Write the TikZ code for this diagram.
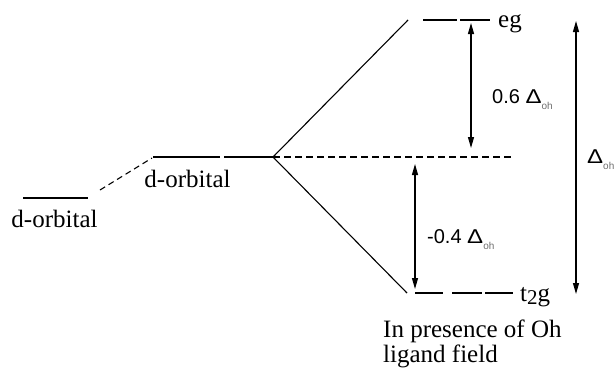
\documentclass[tikz,border=0pt]{standalone}
\usepackage{fontspec}
\usepackage{graphicx}
\setmainfont{Liberation Serif}
\newfontfamily\sansf{Liberation Sans}
\usetikzlibrary{arrows.meta}
\definecolor{subgray}{RGB}{110,110,110}
\newcommand{\dOh}{\scalebox{1.2}[1.0]{Δ}\raisebox{-0.3em}{\fontsize{10}{12}\selectfont\color{subgray}oh}}
\tikzset{
  level/.style={line width=1.3pt},
  split/.style={line width=1.1pt},
  guide/.style={line width=1.1pt, dash pattern=on 7pt off 4pt},
  gap/.style={line width=1.2pt, {Triangle[length=11pt,width=6pt]}-{Triangle[length=11pt,width=6pt]}},
  lbl/.style={inner sep=0pt, font=\fontsize{25}{29}\selectfont},
  slbl/.style={inner sep=0pt, font=\sansf\fontsize{20}{24}\selectfont}
}
\begin{document}
\begin{tikzpicture}[x=1pt,y=-1pt]
\useasboundingbox (0,0) rectangle (615,367);

% free ion level
\coordinate (free1) at (23,198);
\coordinate (free2) at (88,198);
\draw[level] (free1) -- (free2);
\node[lbl, anchor=base] (freelbl) at (54.5,227) {d-orbital};

% spherical field level
\coordinate (sph1) at (153,157);
\coordinate (sph2) at (220,157);
\coordinate (sph3) at (224,157);
\coordinate (apex) at (273,157);
\draw[level] (sph1) -- (sph2);
\draw[level] (sph3) -- (apex);
\node[lbl, anchor=base] (sphlbl) at (187.5,187) {d-orbital};

% raising of the level
\coordinate (rise1) at (100,190);
\coordinate (rise2) at (152,158);
\draw[guide, dash pattern=on 6pt off 4pt] (rise1) -- (rise2);

% barycentre
\coordinate (bary) at (513,157);
\draw[guide] (apex) -- (bary);

% splitting lines
\coordinate (egtop) at (408,20);
\coordinate (t2bot) at (407,293);
\draw[split] (apex) -- (egtop);
\draw[split] (apex) -- (t2bot);

% eg levels
\coordinate (eg1a) at (423,20);
\coordinate (eg1b) at (457,20);
\coordinate (eg2a) at (460,20);
\coordinate (eg2b) at (490,20);
\draw[level] (eg1a) -- (eg1b);
\draw[level] (eg2a) -- (eg2b);
\node[lbl, anchor=base west] (eglbl) at (498,27) {eg};

% t2g levels
\coordinate (t1a) at (415,293);
\coordinate (t1b) at (443,293);
\coordinate (t2a) at (452,293);
\coordinate (t2b) at (482,293);
\coordinate (t3a) at (485,293);
\coordinate (t3b) at (513,293);
\draw[level] (t1a) -- (t1b);
\draw[level] (t2a) -- (t2b);
\draw[level] (t3a) -- (t3b);
\node[lbl, anchor=base west] (t2glbl) at (520,301) {t\raisebox{-0.12em}{\fontsize{21}{25}\selectfont 2}g};

% energy gaps
\coordinate (up1) at (471,23);
\coordinate (up2) at (471,148);
\draw[gap] (up1) -- (up2);
\node[slbl, anchor=base west] (uplbl) at (492,103) {0.6 \dOh};

\coordinate (dn1) at (415,164);
\coordinate (dn2) at (415,289);
\draw[gap] (dn1) -- (dn2);
\node[slbl, anchor=base west] (dnlbl) at (427,243) {-0.4 \dOh};

\coordinate (tot1) at (576,21);
\coordinate (tot2) at (576,294);
\draw[gap] (tot1) -- (tot2);
\node[slbl, anchor=base west] (totlbl) at (587,163) {\dOh};

% caption
\node[lbl, anchor=base west] (cap1) at (383,337) {In presence of Oh};
\node[lbl, anchor=base west] (cap2) at (383,362) {ligand field};
\end{tikzpicture}
\end{document}
